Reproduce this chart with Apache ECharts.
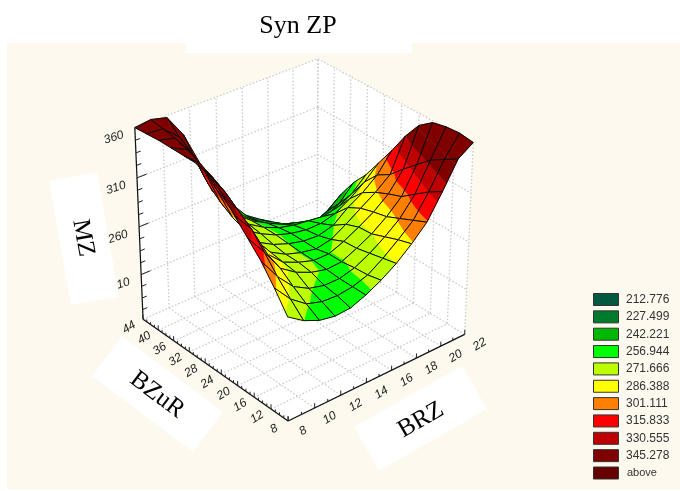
<!DOCTYPE html>
<html><head><meta charset="utf-8">
<style>html,body{margin:0;padding:0;background:#fff}#c{width:680px;height:491px}</style>
<script src="https://cdn.jsdelivr.net/npm/echarts@6/dist/echarts.min.js"></script>
</head><body><div id="c"></div>
<script>
var titleText = 'Syn ZP';
var brzValues = [8,9.1667,10.3333,11.5,12.6667,13.8333,15,16.1667,17.3333,18.5,19.6667,20.8333,22];
var bzurValues = [8,11,14,17,20,23,26,29,32,35,38,41,44];
// MZ, one row per BZuR value, one column per BRZ value
var mzRow08 = [268,257,250,247,248,254,262,272,285,300,324,350,360];
var mzRow11 = [288,270,258,253,252,254,259,269,281,294,316,342,362];
var mzRow14 = [306,284,267,258,254,254,258,266,276,288,306,334,361];
var mzRow17 = [320,300,277,266,259,255,256,263,271,282,296,322,358];
var mzRow20 = [334,315,283,268,261,256,256,262,270,279,291,310,348];
var mzRow23 = [348,325,290,270,261,256,253,256,265,275,285,297,330];
var mzRow26 = [358,335,297,272,263,257,253,252,256,268,277,289,308];
var mzRow29 = [362,342,308,276,266,258,253,250,250,254,263,274,288];
var mzRow32 = [362,348,316,281,268,258,251,247,245,243,246,254,268];
var mzRow35 = [362,354,328,289,270,257,248,240,235,230,228,236,252];
var mzRow38 = [362,358,338,300,274,255,243,232,226,220,213,220,232];
var mzRow41 = [361,360,346,316,279,256,240,228,219,211,205,200,208];
var mzRow44 = [360,362,358,335,300,270,245,226,215,205,195,190,185];
var mzRows = [mzRow08,mzRow11,mzRow14,mzRow17,mzRow20,mzRow23,mzRow26,mzRow29,mzRow32,mzRow35,mzRow38,mzRow41,mzRow44];

var brzTicks = [8,10,12,14,16,18,20,22];
var bzurTicks = [8,12,16,20,24,28,32,36,40,44];
var mzTicks = [210,260,310,360];
var mzMin = 162, mzMax = 360;

var bandLimits = [212.776,227.499,242.221,256.944,271.666,286.388,301.111,315.833,330.555,345.278];
var bandLabels = ['212.776','227.499','242.221','256.944','271.666','286.388','301.111','315.833','330.555','345.278','above'];
var bandColors = ['#00593F','#007A2C','#00B800','#00FF00','#BBFF00','#FFFF00','#FF8000','#FF0000','#BE0000','#800000','#660000'];

// camera calibration: screen position of cube corners (u=BRZ, v=BZuR, w=MZ, all 0..1)
var cal = [[0,0,0,288,422],[1,0,0,465,333],[0,1,0,143,318],[1,1,0,317,245],[0,1,1,135,128],[1,0,1,473,143],[1,1,1,318,58]];
function solveCamera(){
  var A=[],b=[];
  cal.forEach(function(c){
    var u=c[0],v=c[1],w=c[2],x=c[3],y=c[4];
    A.push([u,v,w,1,0,0,0,0,-x*u,-x*v,-x*w]);b.push(x);
    A.push([0,0,0,0,u,v,w,1,-y*u,-y*v,-y*w]);b.push(y);
  });
  var n=11,M=[],i,j,k;
  for(i=0;i<n;i++){M[i]=[];for(j=0;j<=n;j++){var s=0;for(k=0;k<A.length;k++){s+=A[k][i]*(j<n?A[k][j]:b[k]);}M[i][j]=s;}}
  for(i=0;i<n;i++){
    var p=i;for(k=i+1;k<n;k++)if(Math.abs(M[k][i])>Math.abs(M[p][i]))p=k;
    var t=M[i];M[i]=M[p];M[p]=t;
    for(k=0;k<n;k++){if(k===i)continue;var f=M[k][i]/M[i][i];for(j=i;j<=n;j++)M[k][j]-=f*M[i][j];}
  }
  var r=[];for(i=0;i<n;i++)r[i]=M[i][n]/M[i][i];
  return r;
}
var P = solveCamera();
function uu(brz){return (brz-8)/14;}
function vv(bz){return (bz-8)/36;}
function ww(mz){return (mz-mzMin)/(mzMax-mzMin);}
function proj(u,v,w){
  var d=P[8]*u+P[9]*v+P[10]*w+1;
  return [(P[0]*u+P[1]*v+P[2]*w+P[3])/d,(P[4]*u+P[5]*v+P[6]*w+P[7])/d];
}
function clipBand(poly,lim,keepAbove){
  var out=[],n=poly.length;
  for(var i=0;i<n;i++){
    var a=poly[i],b=poly[(i+1)%n];
    var ia=keepAbove?a[2]>=lim:a[2]<=lim, ib=keepAbove?b[2]>=lim:b[2]<=lim;
    if(ia)out.push(a);
    if(ia!==ib){var t=(lim-a[2])/(b[2]-a[2]);out.push([a[0]+t*(b[0]-a[0]),a[1]+t*(b[1]-a[1]),lim]);}
  }
  return out;
}
var cellData=[];
for(var j=bzurValues.length-2;j>=0;j--)for(var i=brzValues.length-2;i>=0;i--)cellData.push([brzValues[i],bzurValues[j],mzRows[j][i],i,j]);

function renderCell(params,api){
  var i=api.value(3),j=api.value(4);
  function node(a,b){
    var p=proj(uu(brzValues[a]),vv(bzurValues[b]),ww(mzRows[b][a]));
    var c=api.coord(p);
    return [c[0],c[1],mzRows[b][a]];
  }
  var q=[node(i,j),node(i+1,j),node(i+1,j+1),node(i,j+1)];
  var kids=[];
  for(var k=0;k<bandColors.length;k++){
    var poly=q;
    if(k>0)poly=clipBand(poly,bandLimits[k-1],true);
    if(poly.length>2&&k<bandLimits.length)poly=clipBand(poly,bandLimits[k],false);
    if(poly.length>2){
      var col=bandColors[Math.min(k,9)];
      kids.push({type:'polygon',shape:{points:poly.map(function(p){return [p[0],p[1]];})},
        style:{fill:col,stroke:col,lineWidth:0.5}});
    }
  }
  kids.push({type:'polygon',shape:{points:q.map(function(p){return [p[0],p[1]];})},
    style:{fill:'none',stroke:'#0a0a0a',lineWidth:1,lineJoin:'round'}});
  return {type:'group',children:kids};
}
function line(api,a,b,style){
  var p=api.coord(a),q=api.coord(b);
  return {type:'line',shape:{x1:p[0],y1:p[1],x2:q[0],y2:q[1]},style:style};
}
function poly(api,pts,fill){
  return {type:'polygon',shape:{points:pts.map(function(p){return api.coord(p);})},style:{fill:fill}};
}
function renderBack(params,api){
  var kids=[];
  kids.push(poly(api,[[7,43],[186,43],[186,53],[412,53],[412,43],[680,43],[680,490],[7,490]],'#FEF9EE'));
  kids.push(poly(api,[proj(0,1,1),proj(1,1,1),proj(1,0,1),proj(1,0,0),proj(0,0,0),proj(0,1,0)],'#fff'));
  var g={stroke:'#cacaca',lineWidth:1.3,lineDash:[1.5,2]};
  brzTicks.forEach(function(t){var u=uu(t);
    kids.push(line(api,proj(u,1,0),proj(u,1,1),g));
    kids.push(line(api,proj(u,0,0),proj(u,1,0),g));
  });
  bzurTicks.forEach(function(t){var v=vv(t);
    kids.push(line(api,proj(1,v,0),proj(1,v,1),g));
    kids.push(line(api,proj(0,v,0),proj(1,v,0),g));
  });
  mzTicks.forEach(function(t){var w=ww(t);
    kids.push(line(api,proj(0,1,w),proj(1,1,w),g));
    kids.push(line(api,proj(1,1,w),proj(1,0,w),g));
  });
  return {type:'group',children:kids};
}
function label(api,p,dx,dy,text,rot){
  var c=api.coord(p);
  return {type:'text',x:c[0]+dx,y:c[1]+dy,rotation:rot*Math.PI/180,
    style:{text:text,fontFamily:'"Liberation Sans",Arial,sans-serif',fontStyle:'italic',fontSize:12,fill:'#222',align:'center',verticalAlign:'middle'}};
}
function renderAxes(params,api){
  var kids=[],ax={stroke:'#111',lineWidth:1.2},tk={stroke:'#222',lineWidth:1};
  kids.push(line(api,proj(0,1,0),proj(0,1,1),ax));
  kids.push(line(api,proj(0,0,0),proj(1,0,0),ax));
  kids.push(line(api,proj(0,0,0),proj(0,1,0),ax));
  var a;
  for(a=0;a<brzTicks.length*2-1;a++){
    var b=8+a, u=uu(b), major=a%2===0;
    kids.push(line(api,proj(u,0,0),proj(u,0,major?0.025:0.014),tk));
  }
  for(a=0;a<=36;a++){
    var v=vv(8+a), maj=a%4===0;
    kids.push(line(api,proj(0,v,0),proj(0,v,maj?0.025:0.014),tk));
  }
  for(a=0;mzMax-a*12.5>=mzMin;a++){
    var mz=mzMax-a*12.5, m=a%4===0;
    kids.push(line(api,proj(0,1,ww(mz)),proj(m?0.05:0.025,1,ww(mz)),tk));
  }
  brzTicks.forEach(function(t){kids.push(label(api,proj(uu(t),0,0),15,10,String(t),32));});
  bzurTicks.forEach(function(t){kids.push(label(api,proj(0,vv(t),0),-14,8,String(t),32));});
  mzTicks.forEach(function(t){kids.push(label(api,proj(0,1,ww(t)),-21,10,String(t),18));});
  return {type:'group',children:kids};
}
function titleBox(api,pts,cx,cy,text,rot){
  var c=api.coord([cx,cy]);
  return [poly(api,pts,'#fff'),{type:'text',x:c[0],y:c[1],rotation:rot*Math.PI/180,
    style:{text:text,fontFamily:'"Liberation Serif","Times New Roman",serif',fontSize:25,fill:'#000',align:'center',verticalAlign:'middle'}}];
}
function renderBoxes(params,api){
  var kids=[];
  kids=kids.concat(titleBox(api,[[49,181],[97,172],[119,297],[71,305]],83,238,'MZ',-80));
  kids=kids.concat(titleBox(api,[[122,336],[223,412],[193,452],[92,376]],157,395,'BZuR',-37));
  kids=kids.concat(titleBox(api,[[462,366],[487,409],[379,471],[354,427]],421,420,'BRZ',30));
  var c=api.coord([298,26]);
  kids.push({type:'text',x:c[0],y:c[1],style:{text:titleText,fontFamily:'"Liberation Serif","Times New Roman",serif',fontSize:26,fill:'#000',align:'center',verticalAlign:'middle'}});
  return {type:'group',children:kids};
}
function renderLegend(params,api){
  var k=params.dataIndex,y=293+k*17.35;
  var c=api.coord([593,y]);
  return {type:'group',children:[
    {type:'rect',shape:{x:c[0]+0.5,y:c[1]+0.5,width:25,height:12},style:{fill:bandColors[k],stroke:'#333',lineWidth:1}},
    {type:'text',x:c[0]+(k===10?34:33),y:c[1]+6.5,style:{text:bandLabels[k],fontFamily:'"Liberation Sans",Arial,sans-serif',fontSize:k===10?11:12,fill:'#333',align:'left',verticalAlign:'middle'}}
  ]};
}
var chart=echarts.init(document.getElementById('c'),null,{renderer:'canvas'});
chart.setOption({
  animation:false,backgroundColor:'#fff',
  grid:{left:0,right:0,top:0,bottom:0},
  xAxis:{type:'value',min:0,max:680,show:false},
  yAxis:{type:'value',min:0,max:491,inverse:true,show:false},
  tooltip:{show:false},
  series:[
    {type:'custom',name:'frame',z:1,silent:true,coordinateSystem:'cartesian2d',data:[[0,0]],renderItem:renderBack,clip:false},
    {type:'custom',name:'MZ surface',z:2,silent:true,coordinateSystem:'cartesian2d',data:cellData,renderItem:renderCell,encode:{x:0,y:1},progressive:0,clip:false},
    {type:'custom',name:'axes',z:3,silent:true,coordinateSystem:'cartesian2d',data:[[0,0]],renderItem:renderAxes,clip:false},
    {type:'custom',name:'boxes',z:4,silent:true,coordinateSystem:'cartesian2d',data:[[0,0]],renderItem:renderBoxes,clip:false},
    {type:'custom',name:'legend',z:5,silent:true,coordinateSystem:'cartesian2d',data:bandLabels.map(function(l,i){return [0,i];}),renderItem:renderLegend,clip:false}
  ]
});
</script></body></html>
